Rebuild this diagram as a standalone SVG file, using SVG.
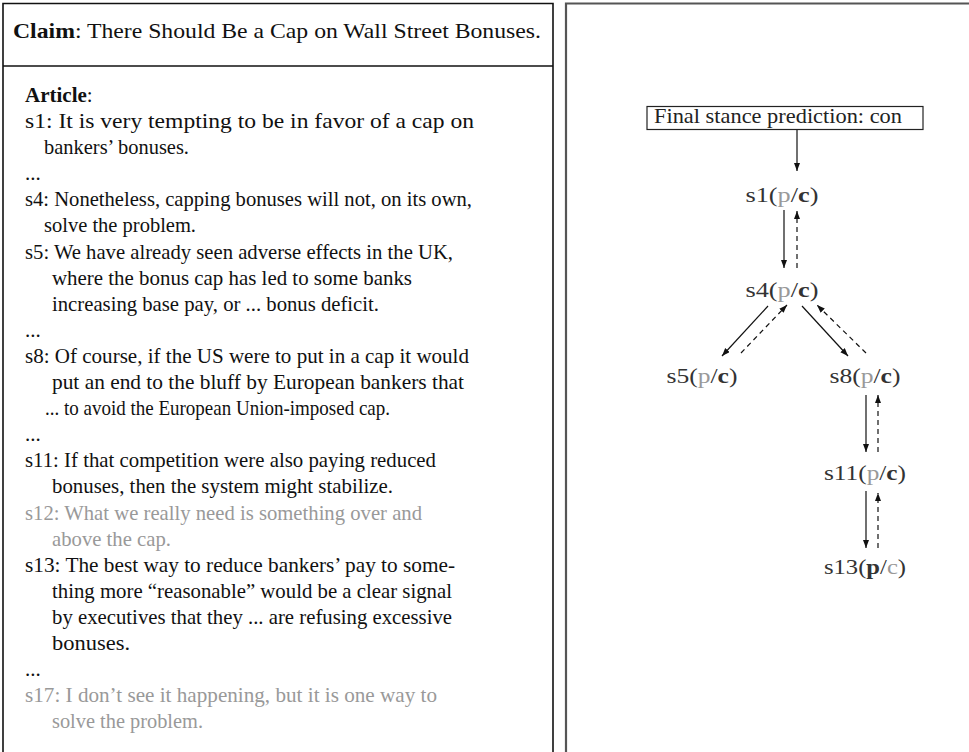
<svg xmlns="http://www.w3.org/2000/svg" width="969" height="752" viewBox="0 0 969 752">
<style>
.t{font-family:"Liberation Serif","Times New Roman",serif;font-size:21px;fill:#111}
.g{fill:#999}
.b{font-weight:bold}
.n{font-family:"Liberation Serif","Times New Roman",serif;font-size:22px;fill:#333;text-anchor:middle}
.ln{stroke:#111;stroke-width:1.2;fill:none}
.ds{stroke-dasharray:5 4}
</style>
<defs>
<marker id="ah" markerUnits="userSpaceOnUse" markerWidth="9" markerHeight="7" refX="8" refY="3" orient="auto"><path d="M0,0 L8,3 L0,6 z" fill="#111"/></marker>
</defs>
<rect width="969" height="752" fill="#fff"/>
<g id="text-panel">
<path d="M3,752 V3.5 H553 V752" fill="none" stroke="#111" stroke-width="1.6"/>
<line x1="3" y1="66" x2="553" y2="66" stroke="#111" stroke-width="1.6"/>
<text class="t" x="13" y="38" textLength="528" lengthAdjust="spacingAndGlyphs"><tspan class="b">Claim</tspan>: There Should Be a Cap on Wall Street Bonuses.</text>
<text class="t" x="25" y="102"><tspan class="b">Article</tspan>:</text>
<text class="t" x="25" y="128" textLength="449" lengthAdjust="spacingAndGlyphs">s1: It is very tempting to be in favor of a cap on</text>
<text class="t" x="44" y="154.1" textLength="145" lengthAdjust="spacingAndGlyphs">bankers’ bonuses.</text>
<text class="t" x="25" y="180.2">...</text>
<text class="t" x="25" y="206.3" textLength="447" lengthAdjust="spacingAndGlyphs">s4: Nonetheless, capping bonuses will not, on its own,</text>
<text class="t" x="44" y="232.4" textLength="152" lengthAdjust="spacingAndGlyphs">solve the problem.</text>
<text class="t" x="25" y="258.5" textLength="428" lengthAdjust="spacingAndGlyphs">s5: We have already seen adverse effects in the UK,</text>
<text class="t" x="52" y="284.6" textLength="360" lengthAdjust="spacingAndGlyphs">where the bonus cap has led to some banks</text>
<text class="t" x="52" y="310.7" textLength="327" lengthAdjust="spacingAndGlyphs">increasing base pay, or ... bonus deficit.</text>
<text class="t" x="25" y="336.8">...</text>
<text class="t" x="25" y="362.9" textLength="444" lengthAdjust="spacingAndGlyphs">s8: Of course, if the US were to put in a cap it would</text>
<text class="t" x="52" y="389" textLength="412" lengthAdjust="spacingAndGlyphs">put an end to the bluff by European bankers that</text>
<text class="t" x="45" y="415.1" textLength="345" lengthAdjust="spacingAndGlyphs">... to avoid the European Union-imposed cap.</text>
<text class="t" x="25" y="441.2">...</text>
<text class="t" x="25" y="467.3" textLength="411" lengthAdjust="spacingAndGlyphs">s11: If that competition were also paying reduced</text>
<text class="t" x="52" y="493.4" textLength="341" lengthAdjust="spacingAndGlyphs">bonuses, then the system might stabilize.</text>
<text class="t g" x="25" y="519.5" textLength="397" lengthAdjust="spacingAndGlyphs">s12: What we really need is something over and</text>
<text class="t g" x="52" y="545.6" textLength="119" lengthAdjust="spacingAndGlyphs">above the cap.</text>
<text class="t" x="25" y="571.7" textLength="430" lengthAdjust="spacingAndGlyphs">s13: The best way to reduce bankers’ pay to some-</text>
<text class="t" x="52" y="597.8" textLength="400" lengthAdjust="spacingAndGlyphs">thing more “reasonable” would be a clear signal</text>
<text class="t" x="52" y="623.9" textLength="400" lengthAdjust="spacingAndGlyphs">by executives that they ... are refusing excessive</text>
<text class="t" x="52" y="650" textLength="78" lengthAdjust="spacingAndGlyphs">bonuses.</text>
<text class="t" x="25" y="676.1">...</text>
<text class="t g" x="25" y="702.2" textLength="412" lengthAdjust="spacingAndGlyphs">s17: I don’t see it happening, but it is one way to</text>
<text class="t g" x="52" y="728.3" textLength="151" lengthAdjust="spacingAndGlyphs">solve the problem.</text>
</g>
<g id="graph-panel">
<path d="M566,752 V3.5 H969" fill="none" stroke="#555" stroke-width="2.2"/>
</g>
<g id="final">
<rect x="647" y="106.5" width="276" height="23" fill="#fff" stroke="#222" stroke-width="1.2"/>
<text class="t" x="654" y="123" textLength="248" lengthAdjust="spacingAndGlyphs" style="fill:#222">Final stance prediction: con</text>
</g>
<g id="s1"><text class="n" x="782" y="202" textLength="73" lengthAdjust="spacingAndGlyphs">s1(<tspan class="g">p</tspan>/<tspan class="b">c</tspan>)</text></g>
<g id="s4"><text class="n" x="782" y="297" textLength="73" lengthAdjust="spacingAndGlyphs">s4(<tspan class="g">p</tspan>/<tspan class="b">c</tspan>)</text></g>
<g id="s5"><text class="n" x="702" y="383" textLength="71" lengthAdjust="spacingAndGlyphs">s5(<tspan class="g">p</tspan>/<tspan class="b">c</tspan>)</text></g>
<g id="s8"><text class="n" x="865" y="383" textLength="71" lengthAdjust="spacingAndGlyphs">s8(<tspan class="g">p</tspan>/<tspan class="b">c</tspan>)</text></g>
<g id="s11"><text class="n" x="865" y="480" textLength="82" lengthAdjust="spacingAndGlyphs">s11(<tspan class="g">p</tspan>/<tspan class="b">c</tspan>)</text></g>
<g id="s13"><text class="n" x="865" y="574" textLength="82" lengthAdjust="spacingAndGlyphs">s13(<tspan class="b">p</tspan>/<tspan class="g">c</tspan>)</text></g>
<g id="connectors">
<line class="ln" x1="797" y1="130" x2="797" y2="171" marker-end="url(#ah)"/>
<line class="ln" x1="784" y1="210" x2="784" y2="268" marker-end="url(#ah)"/>
<line class="ln ds" x1="797" y1="268" x2="797" y2="211" marker-end="url(#ah)"/>
<line class="ln" x1="768" y1="306" x2="722" y2="356" marker-end="url(#ah)"/>
<line class="ln ds" x1="741" y1="353" x2="787" y2="305" marker-end="url(#ah)"/>
<line class="ln" x1="802" y1="306" x2="848" y2="356" marker-end="url(#ah)"/>
<line class="ln ds" x1="866" y1="353" x2="817" y2="305" marker-end="url(#ah)"/>
<line class="ln" x1="866" y1="395" x2="866" y2="452" marker-end="url(#ah)"/>
<line class="ln ds" x1="878" y1="452" x2="878" y2="395" marker-end="url(#ah)"/>
<line class="ln" x1="866" y1="491" x2="866" y2="548" marker-end="url(#ah)"/>
<line class="ln ds" x1="878" y1="548" x2="878" y2="493" marker-end="url(#ah)"/>
</g>
</svg>
